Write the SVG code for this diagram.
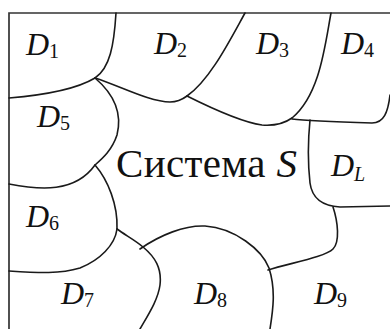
<svg xmlns="http://www.w3.org/2000/svg" width="390" height="329" viewBox="0 0 390 329">
<style>
.ln{fill:none;stroke:#1a1a1a;stroke-width:1.6;stroke-linecap:round;stroke-linejoin:round}
.fr{fill:none;stroke:#333;stroke-width:1.7}
.lb{font-family:"Liberation Serif","Times New Roman",serif;font-size:32px;font-style:italic;fill:#111}
.sb{font-size:20px;font-style:normal}
.sbi{font-size:20px;font-style:italic}
.tt{font-family:"Liberation Serif","Times New Roman",serif;font-size:41px;fill:#111}
</style>
<rect width="390" height="329" fill="#fff"/>
<g id="frame"><path class="fr" d="M9,329 L9,13 L390,13"/></g>
<g id="connectors">
<path class="ln" d="M116,13 C114,45 110,68 95,78"/>
<path class="ln" d="M9,98 C45,95 75,90 95,78"/>
<path class="ln" d="M95,78 C120,86 150,102 170,102 C178,102 183,99 187,96"/>
<path class="ln" d="M245,13 C230,40 210,80 187,96"/>
<path class="ln" d="M187,96 C205,105 240,122 262,125 C275,126 285,123 292,118"/>
<path class="ln" d="M331,13 C325,45 320,95 292,118"/>
<path class="ln" d="M292,119 C300,120 340,122 372,123 C384,123 388,112 390,95"/>
<path class="ln" d="M310,120 C308,140 308,165 310,183 C312,198 322,206 340,207 L390,206"/>
<path class="ln" d="M333,207 C338,222 340,242 333,249 C325,257 290,263 268,270"/>
<path class="ln" d="M140,249 C160,235 185,225 205,226 C235,228 262,250 269,268 C276,290 273,310 270,329"/>
<path class="ln" d="M95,78 C115,95 122,115 117,135 C112,150 103,158 95,165"/>
<path class="ln" d="M9,184 C40,190 75,193 95,165"/>
<path class="ln" d="M95,165 C108,180 118,205 117,229"/>
<path class="ln" d="M9,271 C40,273 60,274 80,268 C100,260 115,245 117,229"/>
<path class="ln" d="M117,229 C125,235 135,240 143,247 C155,257 162,268 160,285 C158,300 148,315 140,329"/>
</g>
<g id="D1"><text class="lb" x="26" y="55">D<tspan class="sb" dy="3">1</tspan></text></g>
<g id="D2"><text class="lb" x="154" y="54">D<tspan class="sb" dy="3">2</tspan></text></g>
<g id="D3"><text class="lb" x="256" y="54">D<tspan class="sb" dy="3">3</tspan></text></g>
<g id="D4"><text class="lb" x="341" y="54">D<tspan class="sb" dy="3">4</tspan></text></g>
<g id="D5"><text class="lb" x="37" y="127">D<tspan class="sb" dy="3">5</tspan></text></g>
<g id="D6"><text class="lb" x="26" y="227">D<tspan class="sb" dy="3">6</tspan></text></g>
<g id="D7"><text class="lb" x="61" y="304">D<tspan class="sb" dy="3">7</tspan></text></g>
<g id="D8"><text class="lb" x="194" y="304">D<tspan class="sb" dy="3">8</tspan></text></g>
<g id="D9"><text class="lb" x="314" y="304">D<tspan class="sb" dy="3">9</tspan></text></g>
<g id="DL"><text class="lb" x="331" y="176">D<tspan class="sbi" dy="5">L</tspan></text></g>
<g id="system"><text class="tt" x="116" y="177" textLength="181" lengthAdjust="spacing">Система <tspan font-style="italic">S</tspan></text></g>
</svg>
